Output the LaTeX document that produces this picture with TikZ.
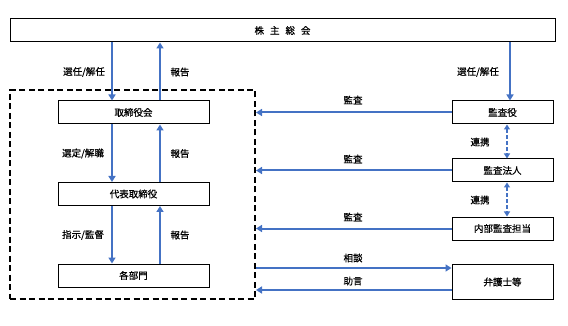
\documentclass[tikz,border=0pt]{standalone}
\usepackage{fontspec}
\setmainfont{Noto Sans CJK JP}[FakeBold=0.6]
\usetikzlibrary{arrows.meta}
\definecolor{arrblue}{HTML}{4472C4}
\begin{document}
\begin{tikzpicture}[x=1pt,y=-1pt,
  font=\fontsize{9.5}{11}\selectfont,
  box/.style={draw=black, line width=1pt, fill=white, inner sep=0pt, minimum width=151pt, minimum height=23pt},
  rbox/.style={draw=black, line width=1pt, fill=white, inner sep=0pt, minimum width=101pt, minimum height=23pt},
  arr/.style={draw=arrblue, line width=2pt, -{Triangle[length=6pt,width=7pt]}},
  darr/.style={draw=arrblue, line width=1.5pt, dash pattern=on 3.5pt off 2.5pt, {Triangle[length=5pt,width=6pt]}-{Triangle[length=5pt,width=6pt]}},
  lbl/.style={inner sep=1pt}]
\useasboundingbox (0,0) rectangle (568,326);
% frame
\node[draw=black, line width=2pt, dash pattern=on 6pt off 3.5pt, minimum width=245pt, minimum height=209pt, inner sep=0pt] (frame) at (132.5,194.5) {};
% top
\node[draw=black, line width=1pt, fill=white, minimum width=545pt, minimum height=23pt, inner sep=0pt] (kabu) at (282.5,30.5) {株\hspace{6pt}主\hspace{6pt}総\hspace{6pt}会};
% left boxes
\node[box] (tb) at (133.5,112.5) {取締役会};
\node[box] (dh) at (133.5,194) {代表取締役};
\node[box] (bm) at (133.5,275.5) {各部門};
% right boxes
\node[rbox] (ky) at (502.5,112.5) {監査役};
\node[rbox] (kh) at (502.5,170.5) {監査法人};
\node[rbox] (nb) at (502.5,228.5) {内部監査担当};
\node[rbox, minimum height=35pt] (bg) at (502.5,282) {弁護士等};
% x positions
\coordinate (xd) at (112,0);
\coordinate (xu) at (160,0);
\coordinate (xr) at (510,0);
\coordinate (xk) at (507,0);
\coordinate (ys) at (0,268);
\coordinate (yj) at (0,290);
% vertical arrows
\draw[arr] (kabu.south -| xd) -- (tb.north -| xd);
\draw[arr] (tb.north -| xu) -- (kabu.south -| xu);
\draw[arr] (tb.south -| xd) -- (dh.north -| xd);
\draw[arr] (dh.north -| xu) -- (tb.south -| xu);
\draw[arr] (dh.south -| xd) -- (bm.north -| xd);
\draw[arr] (bm.north -| xu) -- (dh.south -| xu);
\draw[arr] (kabu.south -| xr) -- (ky.north -| xr);
\draw[darr] (ky.south -| xk) -- (kh.north -| xk);
\draw[darr] (kh.south -| xk) -- (nb.north -| xk);
% horizontal arrows
\draw[arr] (ky.west) -- (ky.west -| frame.east);
\draw[arr] (kh.west) -- (kh.west -| frame.east);
\draw[arr] (nb.west) -- (nb.west -| frame.east);
\draw[arr] (frame.east |- ys) -- (bg.west |- ys);
\draw[arr] (bg.west |- yj) -- (frame.east |- yj);
% labels
\node[lbl] (l1) at (84,72) {選任/解任};
\node[lbl] (l2) at (180,72) {報告};
\node[lbl] (l3) at (478,72) {選任/解任};
\node[lbl] (l4) at (83,153.5) {選定/解職};
\node[lbl] (l5) at (180,153.5) {報告};
\node[lbl] (l6) at (83,235) {指示/監督};
\node[lbl] (l7) at (180,235) {報告};
\node[lbl] (l8) at (353,100) {監査};
\node[lbl] (l9) at (353,159) {監査};
\node[lbl] (l10) at (353,217) {監査};
\node[lbl] (l11) at (353,258) {相談};
\node[lbl] (l12) at (353,281) {助言};
\node[lbl] (l13) at (480,142) {連携};
\node[lbl] (l14) at (480,200) {連携};
\end{tikzpicture}
\end{document}
